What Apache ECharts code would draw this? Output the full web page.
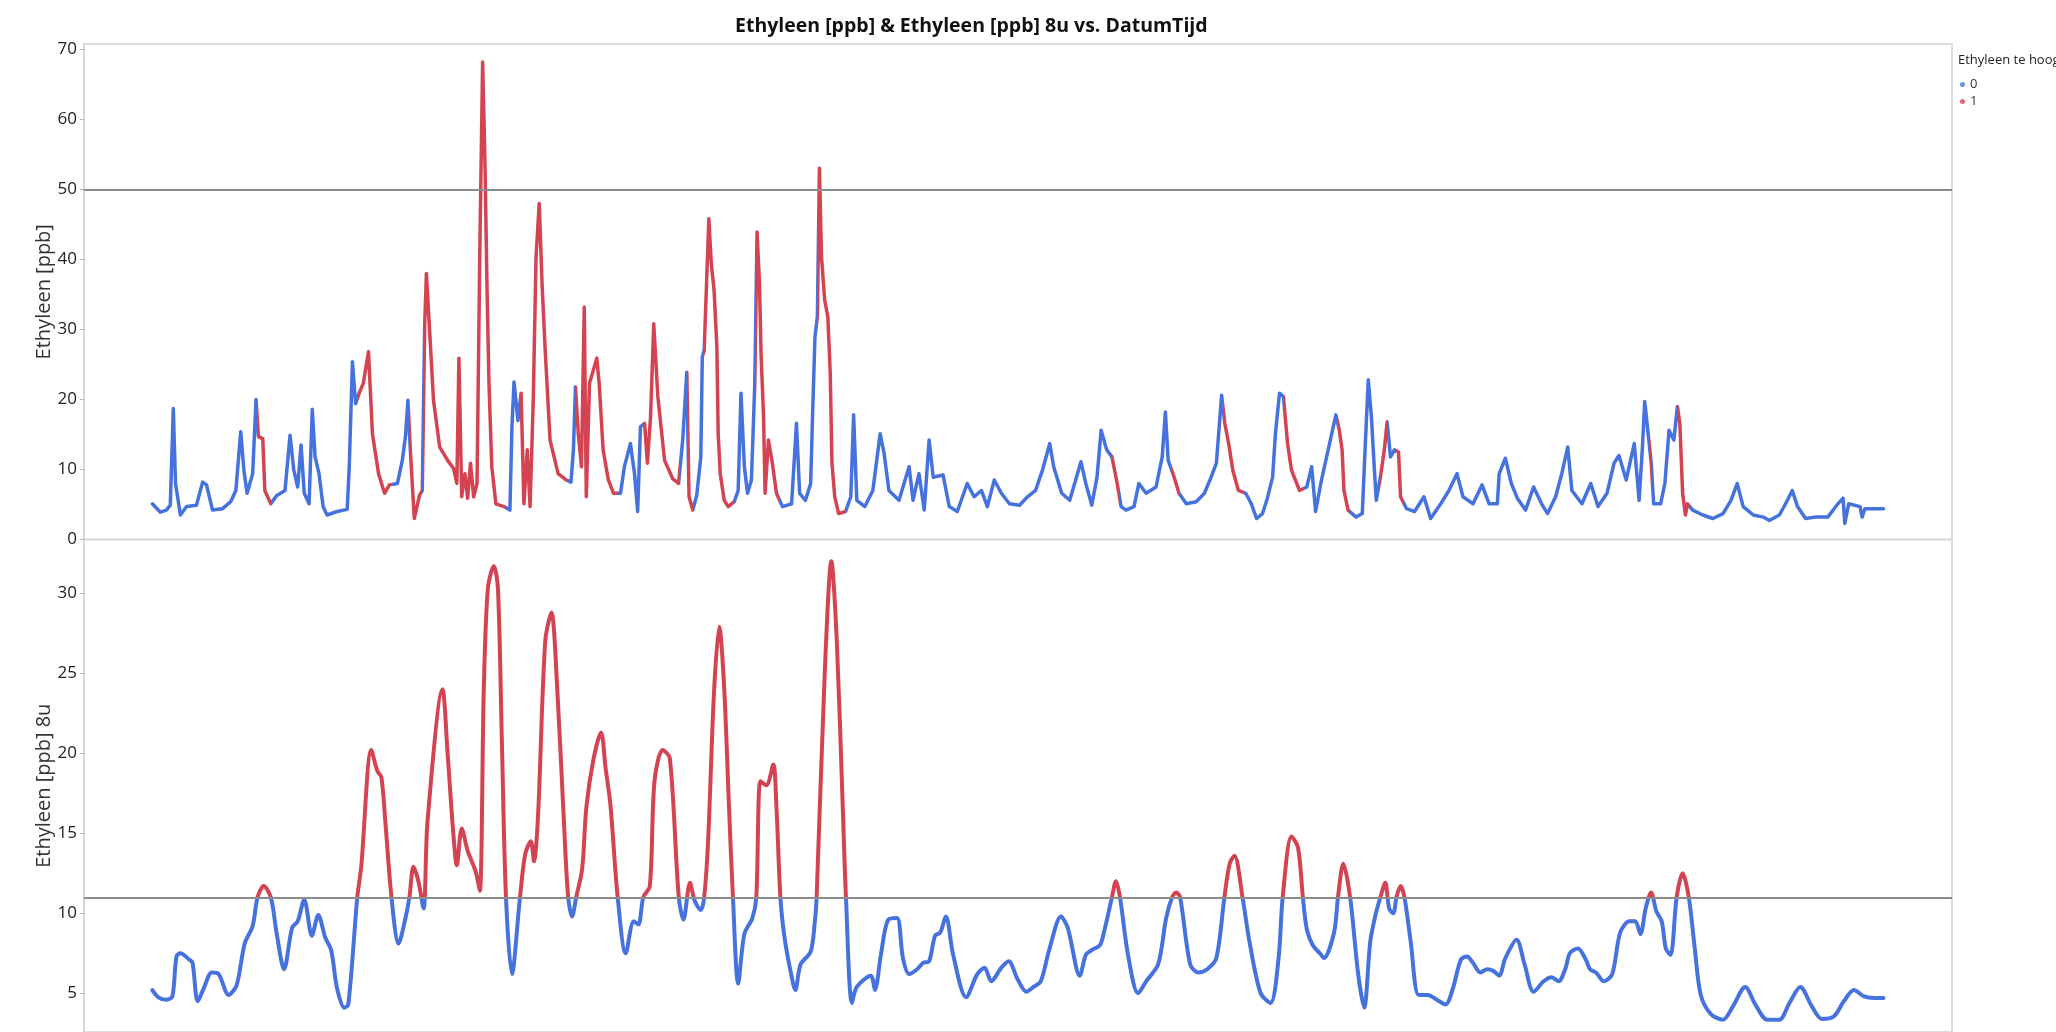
<!DOCTYPE html>
<html>
<head>
<meta charset="utf-8">
<title>Ethyleen [ppb] & Ethyleen [ppb] 8u vs. DatumTijd</title>
<script src="https://cdn.jsdelivr.net/npm/echarts@6/dist/echarts.min.js"></script>
<style>
    html, body { margin: 0; padding: 0; background: #fff; }
    #chart { width: 2056px; height: 1032px; }
</style>
</head>
<body>
<div id="chart"></div>
<script>
// DatumTijd as a running sample position (0..1000 over the plot width), value in ppb
var ethyleen = [
    [36.6,5.1],[40.9,3.9],[44.1,4.2],[46.2,4.9],[47.8,18.7],[49.0,8.0],[51.6,3.5],[54.9,4.7],
    [60.2,4.9],[63.5,8.2],[65.6,7.8],[68.8,4.2],[74.2,4.4],[78.5,5.4],[81.3,7.0],[83.9,15.4],
    [85.6,9.9],[87.3,6.6],[90.3,9.4],[92.1,20.0],[93.4,14.7],[95.7,14.4],[96.8,7.0],[100.0,5.1],
    [103.2,6.3],[107.6,7.0],[110.3,14.9],[112.3,9.9],[114.4,7.5],[116.2,13.5],[117.9,6.6],[120.5,5.1],
    [122.2,18.6],[123.7,11.8],[125.8,9.4],[128.0,4.7],[130.1,3.5],[135.5,4.0],[140.9,4.3],[142.0,10.4],
    [143.7,25.4],[145.4,19.4],[147.3,20.9],[149.5,22.3],[152.3,26.8],[154.4,15.1],[157.7,9.4],[160.9,6.6],
    [163.5,7.8],[167.8,8.0],[170.4,11.3],[172.1,14.7],[173.4,19.9],[174.7,12.8],[176.8,3.0],[179.6,6.3],
    [181.1,7.0],[182.4,30.8],[183.3,38.0],[185.0,29.9],[187.1,19.9],[190.4,13.2],[194.7,11.3],[197.9,10.1],
    [199.6,8.0],[200.7,25.9],[202.2,6.1],[203.9,9.4],[205.4,5.9],[206.9,10.9],[208.6,6.1],[210.4,8.0],
    [211.9,41.3],[213.4,68.2],[214.7,53.2],[215.7,36.6],[216.8,22.3],[218.3,10.4],[220.5,5.1],[224.8,4.7],
    [228.0,4.2],[229.1,16.1],[230.2,22.5],[232.3,17.0],[234.0,20.9],[235.5,5.1],[237.3,12.8],[238.8,4.7],
    [240.5,19.9],[242.0,40.4],[243.7,48.0],[245.2,36.6],[246.9,27.0],[249.5,14.2],[253.8,9.4],[258.1,8.5],
    [260.7,8.2],[262.0,12.8],[263.1,21.8],[264.6,15.1],[266.3,10.4],[267.8,33.2],[268.9,6.1],[270.6,22.3],
    [272.7,24.2],[274.5,25.9],[275.8,22.3],[277.9,12.8],[280.7,8.5],[283.5,6.6],[287.2,6.6],[289.3,10.4],
    [292.5,13.7],[294.7,9.4],[296.4,4.0],[297.9,16.1],[300.1,16.6],[301.6,10.9],[303.3,17.5],[305.0,30.8],
    [307.2,20.4],[310.8,11.3],[315.1,8.7],[318.3,8.0],[320.5,14.2],[322.7,23.9],[323.9,6.1],[325.9,4.2],
    [328.0,6.3],[330.2,11.8],[331.0,26.1],[332.0,27.0],[334.5,45.8],[335.8,39.4],[337.3,35.6],[338.8,27.5],
    [339.5,15.1],[340.6,9.4],[342.7,5.6],[344.9,4.7],[348.1,5.4],[350.2,7.0],[351.7,20.9],[353.5,10.4],
    [355.2,6.6],[357.3,8.5],[359.1,22.3],[360.3,43.9],[361.6,36.6],[362.5,26.1],[363.8,17.5],[364.6,6.6],
    [366.4,14.2],[368.5,10.9],[370.7,6.6],[373.9,4.7],[378.8,5.1],[381.4,16.6],[383.1,6.6],[386.2,5.6],
    [389.0,8.0],[390.0,17.5],[391.3,28.9],[392.6,31.8],[393.7,53.0],[394.8,40.4],[396.5,34.2],[398.2,31.8],
    [399.5,23.7],[400.4,10.9],[401.9,6.1],[404.0,3.7],[407.7,4.0],[410.5,6.1],[412.0,17.8],[413.7,5.6],
    [418.0,4.7],[422.3,7.0],[426.2,15.1],[428.3,12.3],[430.9,7.0],[436.3,5.6],[441.7,10.4],[443.8,5.6],
    [447.0,9.4],[449.8,4.2],[452.4,14.2],[454.6,8.9],[459.9,9.2],[463.2,4.7],[467.5,4.0],[472.8,8.0],
    [476.5,6.1],[480.4,7.0],[483.6,4.7],[487.3,8.5],[491.1,6.6],[495.4,5.1],[500.8,4.9],[505.1,6.1],
    [509.4,7.0],[513.1,9.9],[517.0,13.7],[519.1,10.4],[523.4,6.6],[527.7,5.6],[533.7,11.1],[536.3,8.0],
    [539.5,4.9],[542.3,8.9],[544.5,15.6],[547.5,12.8],[550.3,11.8],[553.1,8.0],[555.2,4.7],[557.8,4.2],
    [562.1,4.7],[564.7,8.0],[568.6,6.6],[573.9,7.5],[577.2,11.8],[578.9,18.2],[580.4,11.3],[583.6,8.9],
    [586.2,6.6],[590.1,5.1],[595.4,5.4],[599.8,6.6],[603.4,8.9],[606.2,10.9],[609.0,20.6],[610.7,16.6],
    [612.9,13.5],[615.0,9.9],[618.0,7.0],[621.9,6.6],[624.9,5.1],[627.7,3.0],[630.9,3.7],[633.5,5.9],
    [636.3,8.9],[637.8,15.1],[640.0,20.9],[642.1,20.4],[644.3,13.7],[646.4,9.9],[650.7,7.0],[654.6,7.5],
    [657.2,10.4],[659.3,4.0],[662.1,8.0],[664.8,11.3],[667.6,14.7],[670.2,17.8],[672.0,15.6],[673.5,12.8],
    [674.5,7.0],[676.7,4.2],[681.0,3.2],[684.3,3.7],[685.8,12.8],[687.5,22.8],[689.2,17.5],[690.7,10.4],
    [691.8,5.6],[694.0,8.9],[696.1,12.8],[697.6,16.8],[699.4,11.8],[701.5,12.8],[703.7,12.5],[704.8,6.1],
    [708.0,4.4],[712.3,4.0],[717.3,6.1],[720.9,3.0],[726.3,5.1],[730.7,7.0],[735.0,9.4],[738.2,6.1],
    [743.6,5.1],[748.4,7.8],[752.2,5.1],[756.6,5.1],[757.6,9.4],[760.9,11.6],[764.1,8.0],[767.3,5.9],
    [771.7,4.2],[776.0,7.5],[780.3,5.1],[783.5,3.7],[787.8,6.1],[791.1,9.4],[794.3,13.2],[796.5,7.0],
    [801.9,5.1],[806.6,8.0],[810.5,4.7],[815.3,6.6],[819.1,10.9],[821.7,12.0],[825.6,8.5],[829.9,13.7],
    [832.5,5.6],[834.2,12.8],[835.5,19.7],[837.5,14.7],[839.0,10.9],[840.3,5.1],[844.0,5.1],[846.3,8.0],
    [848.5,15.6],[851.1,14.2],[853.0,19.0],[854.3,16.6],[855.8,6.6],[857.3,3.5],[858.4,5.1],[861.2,4.2],
    [866.6,3.5],[872.0,3.0],[877.4,3.7],[881.7,5.6],[885.0,8.0],[888.2,4.7],[893.6,3.5],[899.0,3.2],
    [902.2,2.7],[907.6,3.5],[911.9,5.6],[914.5,7.0],[917.3,4.7],[921.6,3.0],[927.0,3.2],[933.5,3.2],
    [938.3,4.9],[941.7,5.9],[942.6,2.3],[944.7,5.1],[950.8,4.7],[951.9,3.2],[953.4,4.4],[958.3,4.4],
    [963.3,4.4]
];

// 8-hour average, same time positions scale
var ethyleen8u = [
    [36.6,5.2],[39.8,4.75],[44.1,4.6],[47.3,4.8],[49.5,7.3],[51.6,7.5],[56.4,7.1],[58.1,6.9],
    [60.9,4.5],[64.1,5.3],[68.4,6.3],[72.1,6.2],[77.4,4.9],[81.7,5.5],[86.0,8.1],[90.3,9.2],
    [92.9,11.0],[96.2,11.7],[100.0,11.0],[103.2,8.7],[107.1,6.5],[111.4,9.1],[114.4,9.5],[117.9,10.85],
    [122.0,8.6],[125.4,9.9],[129.1,8.5],[132.3,7.7],[135.5,5.3],[139.4,4.1],[141.5,4.3],[146.3,11.0],
    [148.4,12.9],[153.8,20.2],[157.0,18.9],[159.2,18.5],[161.3,15.75],[164.6,11.0],[168.4,8.1],[172.1,9.7],
    [174.2,11.0],[176.4,12.9],[179.0,12.0],[181.8,10.3],[183.9,15.75],[191.9,24.0],[194.7,19.9],[197.5,15.3],
    [199.6,13.0],[202.2,15.3],[205.4,13.9],[209.7,12.6],[211.9,11.4],[214.0,23.9],[216.2,30.3],[219.4,31.7],
    [221.6,30.3],[223.7,20.75],[225.9,11.0],[229.1,6.2],[233.4,11.0],[236.2,13.7],[239.2,14.5],[240.9,13.25],
    [243.1,16.2],[246.9,27.0],[250.2,28.8],[253.4,23.9],[257.0,15.5],[259.2,11.0],[261.3,9.8],[263.5,11.0],
    [266.7,12.8],[268.9,16.6],[272.7,19.6],[276.8,21.3],[279.2,19.1],[281.8,16.8],[285.7,11.0],[290.0,7.5],
    [294.3,9.5],[296.8,9.3],[299.4,11.0],[302.9,11.7],[305.4,18.25],[309.7,20.2],[313.6,19.7],[318.4,11.0],
    [320.9,9.6],[324.4,11.9],[327.0,10.75],[330.2,10.2],[332.0,11.0],[334.1,14.5],[337.3,23.9],[340.1,27.9],
    [342.7,24.1],[345.3,16.6],[347.4,11.0],[350.2,5.6],[353.5,8.7],[357.8,9.7],[359.9,11.0],[362.1,18.25],
    [365.3,18.0],[369.0,19.3],[370.7,16.6],[372.8,11.0],[375.0,8.5],[378.2,6.4],[380.8,5.2],[383.6,6.8],
    [389.0,7.6],[391.1,9.3],[392.2,11.0],[396.5,24.9],[400.1,32.0],[403.0,27.0],[406.2,16.6],[407.9,11.0],
    [411.1,4.4],[413.7,5.4],[421.2,6.1],[423.4,5.2],[426.6,7.4],[430.5,9.6],[435.2,9.7],[438.4,7.2],
    [441.7,6.2],[446.0,6.5],[449.2,6.9],[452.4,7.0],[455.6,8.6],[458.4,8.8],[461.4,9.8],[465.3,7.4],
    [472.2,4.75],[478.2,6.2],[482.1,6.6],[485.7,5.75],[491.1,6.6],[495.0,7.0],[499.7,5.9],[504.5,5.1],
    [508.3,5.4],[512.2,5.75],[516.9,7.8],[523.0,9.8],[526.6,9.1],[533.1,6.1],[536.3,7.4],[539.5,7.7],
    [543.8,8.0],[546.0,8.8],[550.3,11.0],[552.4,12.0],[554.6,11.0],[558.9,7.4],[564.3,5.0],[568.6,5.75],
    [575.0,6.8],[579.3,9.7],[582.5,11.0],[584.7,11.3],[586.8,11.0],[592.2,6.8],[596.5,6.3],[601.3,6.5],
    [606.2,7.2],[610.5,11.0],[613.3,13.1],[615.9,13.6],[620.2,11.0],[624.1,8.1],[629.9,5.0],[635.2,4.4],
    [639.5,7.2],[641.7,11.0],[646.4,14.8],[649.9,14.1],[652.5,11.0],[654.6,9.0],[657.8,8.0],[661.6,7.5],
    [663.8,7.2],[669.2,8.8],[671.3,11.0],[674.1,13.1],[677.8,11.0],[682.1,6.2],[685.3,4.1],[688.6,8.25],
    [691.4,9.9],[694.0,11.0],[696.6,11.9],[698.7,10.3],[700.9,10.0],[702.6,11.0],[704.8,11.7],[706.9,11.0],
    [710.2,8.25],[714.5,4.9],[719.4,4.9],[724.2,4.6],[728.9,4.3],[732.8,5.3],[737.1,7.1],[740.4,7.3],
    [743.6,6.9],[747.5,6.3],[751.2,6.5],[754.4,6.4],[757.6,6.1],[760.9,7.2],[766.9,8.35],[771.2,6.8],
    [776.0,5.1],[781.4,5.75],[785.7,6.0],[789.4,5.75],[793.2,6.6],[795.4,7.5],[799.7,7.8],[804.0,7.1],
    [806.2,6.5],[809.4,6.3],[813.7,5.75],[818.1,6.2],[822.4,8.8],[827.3,9.5],[830.4,9.5],[833.2,8.7],
    [836.0,10.3],[838.9,11.3],[841.8,10.1],[844.6,9.5],[846.8,7.8],[849.3,7.4],[852.6,11.0],[855.8,12.5],
    [859.1,11.0],[862.3,7.8],[865.5,4.9],[870.9,3.7],[877.4,3.35],[882.8,4.2],[889.3,5.4],[894.7,4.3],
    [901.1,3.35],[907.6,3.35],[913.0,4.4],[918.8,5.4],[924.9,4.2],[930.3,3.4],[936.7,3.55],[942.1,4.5],
    [947.5,5.2],[952.9,4.8],[958.3,4.7],[963.3,4.7]
];

var topTicks = [0, 10, 20, 30, 40, 50, 60, 70];
var bottomTicks = [5, 10, 15, 20, 25, 30];
var flagNames = ['0', '1'];
var rawLimit = 50;
var avgLimit = 11;

var BLUE = '#4672de';
var RED = '#d34352';
var FONT = 'Open Sans';

// periods where the 8u average is above the limit -> "te hoog" = 1
function highPeriods(rows, limit) {
    var out = [], start = null;
    function cross(a, b) {
        return a[0] + (limit - a[1]) / (b[1] - a[1]) * (b[0] - a[0]);
    }
    for (var i = 0; i < rows.length; i++) {
        var above = rows[i][1] > limit;
        if (above && start === null) {
            start = i === 0 ? rows[0][0] : cross(rows[i - 1], rows[i]);
        } else if (!above && start !== null) {
            out.push([start, cross(rows[i - 1], rows[i])]);
            start = null;
        }
    }
    if (start !== null) out.push([start, rows[rows.length - 1][0]]);
    return out;
}

var periods = highPeriods(ethyleen8u, avgLimit);
var timePieces = [];
var prev = -1000;
periods.forEach(function (p) {
    timePieces.push({ min: prev, max: p[0], color: BLUE });
    timePieces.push({ min: p[0], max: p[1], color: RED });
    prev = p[1];
});
timePieces.push({ min: prev, max: 2000, color: BLUE });

function yAxisFor(idx, name, min, max, ticks) {
    return {
        gridIndex: idx,
        type: 'value',
        min: min,
        max: max,
        name: name,
        nameLocation: 'middle',
        nameGap: 30,
        nameMoveOverlap: false,
        nameTextStyle: { fontFamily: FONT, fontSize: 20, color: '#333' },
        axisLine: { show: true, lineStyle: { color: '#d6d6d6', width: 2 } },
        axisTick: { show: true, length: 4, customValues: ticks, lineStyle: { color: '#b5b5b5' } },
        axisLabel: { customValues: ticks, fontFamily: FONT, fontSize: 17, color: '#222', margin: 7 },
        splitLine: { show: false }
    };
}

var refLine = function (y) {
    return {
        silent: true,
        symbol: ['none', 'none'],
        label: { show: false },
        lineStyle: { color: '#8c8c8c', width: 2, type: 'solid' },
        data: [{ yAxis: y }]
    };
};

var chart = echarts.init(document.getElementById('chart'));
chart.setOption({
    animation: false,
    backgroundColor: '#fff',
    title: [
        {
            text: 'Ethyleen [ppb] & Ethyleen [ppb] 8u vs. DatumTijd',
            left: 735, top: 16, padding: 0,
            textStyle: { fontFamily: FONT, fontSize: 19.5, fontWeight: 'bold', color: '#111' }
        },
        {
            text: 'Ethyleen te hoog',
            left: 1958, top: 54, padding: 0,
            textStyle: { fontFamily: FONT, fontSize: 13, fontWeight: 'normal', color: '#222' }
        }
    ],
    legend: {
        data: flagNames,
        orient: 'vertical',
        left: 1960, top: 78, padding: 0,
        icon: 'circle', itemWidth: 5, itemHeight: 5, itemGap: 4,
        textStyle: { fontFamily: FONT, fontSize: 13, color: '#333' }
    },
    grid: [
        { left: 84, right: 104, top: 44, height: 495.5, show: true, borderColor: '#dcdcdc', borderWidth: 2 },
        { left: 84, right: 104, top: 539.5, bottom: 0, show: true, borderColor: '#dcdcdc', borderWidth: 2 }
    ],
    xAxis: [
        { gridIndex: 0, type: 'value', min: 0, max: 1000, show: false },
        { gridIndex: 1, type: 'value', min: 0, max: 1000, show: false }
    ],
    yAxis: [
        yAxisFor(0, 'Ethyleen [ppb]', 0, 70.76, topTicks),
        yAxisFor(1, 'Ethyleen [ppb] 8u', 2.58, 33.36, bottomTicks)
    ],
    visualMap: [
        { type: 'piecewise', show: false, seriesIndex: 0, dimension: 0, pieces: timePieces, outOfRange: { color: BLUE } },
        {
            type: 'piecewise', show: false, seriesIndex: 1, dimension: 1,
            pieces: [{ min: -100, max: avgLimit, color: BLUE }, { min: avgLimit, max: 100, color: RED }]
        }
    ],
    series: [
        {
            name: 'Ethyleen [ppb]',
            type: 'line',
            xAxisIndex: 0, yAxisIndex: 0,
            data: ethyleen,
            showSymbol: false,
            lineStyle: { width: 3.5, cap: 'round', join: 'round' },
            markLine: refLine(rawLimit)
        },
        {
            name: 'Ethyleen [ppb] 8u',
            type: 'line',
            xAxisIndex: 1, yAxisIndex: 1,
            data: ethyleen8u,
            showSymbol: false,
            smooth: 0.3,
            lineStyle: { width: 4, cap: 'round', join: 'round' },
            markLine: refLine(avgLimit)
        },
        { name: flagNames[0], type: 'scatter', xAxisIndex: 0, yAxisIndex: 0, data: [], itemStyle: { color: BLUE } },
        { name: flagNames[1], type: 'scatter', xAxisIndex: 0, yAxisIndex: 0, data: [], itemStyle: { color: RED } }
    ]
});
</script>
</body>
</html>
